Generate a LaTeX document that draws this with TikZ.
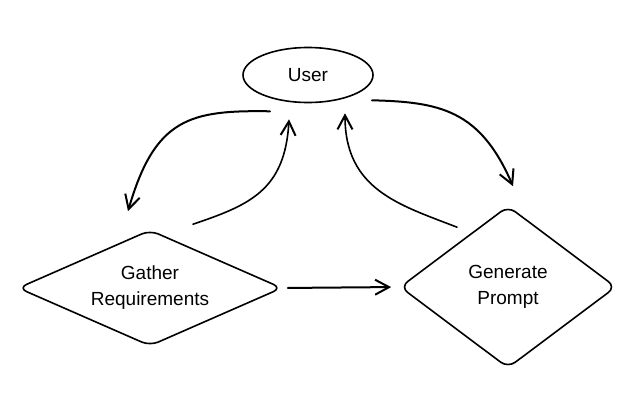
\documentclass[tikz,border=0pt]{standalone}
\usepackage{fontspec}
\setmainfont{Liberation Sans}
\usetikzlibrary{shapes.geometric, positioning, arrows.meta, calc}
\tikzset{
  actor/.style={ellipse, draw=black, line width=1.6pt, minimum width=130pt, minimum height=55pt, inner sep=1pt, font=\fontsize{19}{26}\selectfont},
  decision/.style={diamond, draw=black, line width=1.6pt, rounded corners=9pt, inner sep=1pt, align=center, font=\fontsize{19}{26}\selectfont},
  arrow/.style={line width=2pt, line cap=round, -{Straight Barb[length=14pt,width=15pt,line width=2pt]}},
  thinarrow/.style={arrow, line width=1.6pt}
}

\begin{document}
\begin{tikzpicture}[x=1pt, y=-1pt]
    \useasboundingbox (0,0) rectangle (634,393);

    % Nodes
    \node[actor] (usr) at (308,75) {User};
    \node[decision, aspect=2.3, minimum width=264pt, minimum height=116pt] (gat) at (150,288) {Gather\\Requirements};
    \node[decision, aspect=1.3, minimum width=216pt, minimum height=162pt] (gen) at (508,287) {Generate\\Prompt};

    % User <-> Gather Requirements
    \draw[arrow] ($(usr.south)+(-38,8)$) .. controls (190,110) and (155,118) .. ($(gat.north)+(-22,-18)$);
    \draw[thinarrow] ($(gat.north)+(43,-5)$) .. controls (250,205) and (285,190) .. ($(usr.south)+(-19,16)$);

    % User <-> Generate Prompt
    \draw[arrow] ($(usr.south)+(64,-3)$) .. controls (440,102) and (480,110) .. ($(gen.north)+(5,-19)$);
    \draw[thinarrow] ($(gen.north)+(-51,22)$) .. controls (400,205) and (345,190) .. ($(usr.south)+(37,10)$);

    % Gather Requirements -> Generate Prompt
    \draw[arrow, shorten <=5pt, shorten >=8pt] (gat.east) -- (gen.west);
\end{tikzpicture}
\end{document}
